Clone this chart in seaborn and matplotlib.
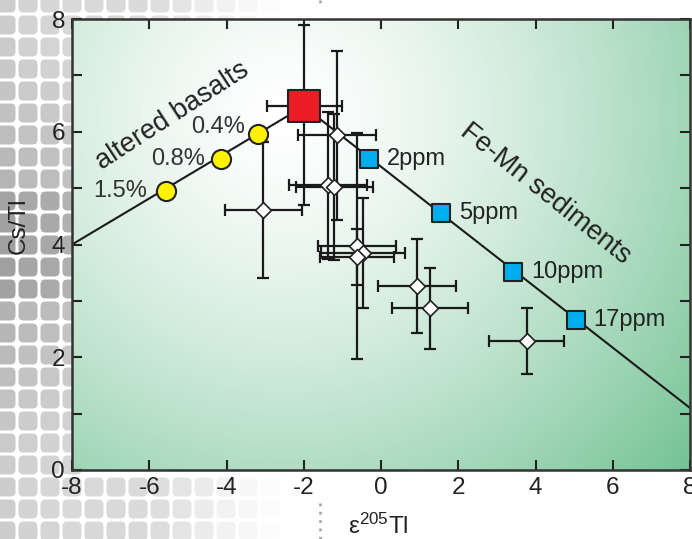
import numpy as np
import pandas as pd
import matplotlib
matplotlib.use("Agg")
import matplotlib.pyplot as plt
import seaborn as sns
from matplotlib.patches import FancyBboxPatch

# ---------------- data ----------------
basalt_x = [-5.56, -4.13, -3.18]
basalt_y = [4.95, 5.51, 5.96]
basalt_labels = ["1.5%", "0.8%", "0.4%"]

sed_x = [-0.31, 1.55, 3.41, 5.04]
sed_y = [5.51, 4.56, 3.51, 2.66]
sed_labels = ["2ppm", "5ppm", "10ppm", "17ppm"]

mix_basalt_x = [-8.0, -2.0]
mix_basalt_y = [4.0, 6.45]
mix_sed_x = [-2.0, 8.0]
mix_sed_y = [6.45, 1.1]

mantle_x = [-2.0]
mantle_y = [6.45]
mantle_xerr_lo = [0.95]
mantle_xerr_hi = [1.0]
mantle_yerr_lo = [1.75]
mantle_yerr_hi = [1.45]

sample_x = [-3.05, -1.14, -1.37, -1.21, -0.62, -0.47, -0.62, 0.93, 1.27, 3.77]
sample_y = [4.61, 5.94, 5.05, 5.02, 3.97, 3.85, 3.78, 3.26, 2.87, 2.29]
sample_xerr = [1.0, 1.0, 1.0, 1.0, 1.0, 1.08, 0.95, 1.0, 0.98, 0.98]
sample_yerr = [1.2, 1.5, 1.3, 1.3, 2.0, 0.97, 0.5, 0.83, 0.72, 0.59]

x_ticks = [-8, -6, -4, -2, 0, 2, 4, 6, 8]
y_ticks = [0, 2, 4, 6, 8]

# ---------------- style ----------------
sns.set_style("ticks")
plt.rcParams["font.family"] = ["Liberation Sans", "DejaVu Sans"]
plt.rcParams["mathtext.fontset"] = "custom"
plt.rcParams["mathtext.rm"] = "Liberation Sans"
plt.rcParams["mathtext.it"] = "Liberation Sans"

W, H = 692, 539
fig = plt.figure(figsize=(W / 100, H / 100), dpi=100)
fig.patch.set_facecolor("white")

# background decorative pattern (grey rounded tiles fading to the right)
bg = fig.add_axes([0, 0, 1, 1], zorder=-10)
bg.set_xlim(0, W)
bg.set_ylim(H, 0)
bg.axis("off")
step = 22.0
for i in range(0, 32):
    for j in range(0, 26):
        cx = 6 + i * step
        cy = 3 + j * step
        fade = np.clip(1.0 - (cx - 50) / 240.0, 0, 1)
        if cx > 80 and 25 < cy < 468:
            continue
        if fade <= 0.02:
            continue
        g = 0.74 + 0.06 * np.cos(cy / 80.0) + 0.04 * np.sin(cx / 35.0)
        if 195 < cy < 290:
            g -= 0.06
        g = g + (1 - g) * (1 - fade)
        bg.add_patch(FancyBboxPatch((cx - 9.5, cy - 9.5), 19, 19,
                                    boxstyle="round,pad=0,rounding_size=5",
                                    fc=(g, g, g), ec="none"))
# faint dotted guide
bg.plot([320, 320], [503, 539], ls=(0, (1, 2)), color="#aaaaaa", lw=2)
bg.plot([320, 320], [0, 6], ls=(0, (1, 2)), color="#aaaaaa", lw=2)

ax = fig.add_axes([72 / W, 1 - 470 / H, (690 - 72) / W, (470 - 19) / H])

# radial gradient in plot area
nx, ny = 400, 300
gx = np.linspace(-8, 8, nx)
gy = np.linspace(8, 0, ny)
GX, GY = np.meshgrid(gx, gy)
px = 381 + 38.7 * GX
py = 470 - 56.4 * GY
r = np.sqrt((px - 285) ** 2 + (py - 115) ** 2) / 540.0
t = np.clip(r, 0, 1) ** 1.4
white = np.array([255, 255, 255]) / 255
green = np.array([115, 194, 148]) / 255
img = white[None, None, :] * (1 - t[..., None]) + green[None, None, :] * t[..., None]
ax.imshow(img, extent=[-8, 8, 0, 8], aspect="auto", zorder=0, interpolation="bilinear")

# mixing lines
sns.lineplot(x=mix_basalt_x, y=mix_basalt_y, ax=ax, color="#1a1a1a", lw=1.5, zorder=2)
sns.lineplot(x=mix_sed_x, y=mix_sed_y, ax=ax, color="#1a1a1a", lw=1.5, zorder=2)

# sample error bars
ax.errorbar(sample_x, sample_y, xerr=sample_xerr, yerr=sample_yerr, fmt="none",
            ecolor="#1a1a1a", elinewidth=1.6, capsize=4.5, capthick=1.6, zorder=3)
ax.errorbar(mantle_x, mantle_y, xerr=[mantle_xerr_lo, mantle_xerr_hi],
            yerr=[mantle_yerr_lo, mantle_yerr_hi], fmt="none",
            ecolor="#1a1a1a", elinewidth=1.6, capsize=4.5, capthick=1.6, zorder=3)

# markers
sns.scatterplot(x=mantle_x, y=mantle_y, ax=ax, marker="s", s=560, color="#ec1c24",
                edgecolor="#222222", linewidth=1.5, zorder=4)
sns.scatterplot(x=basalt_x, y=basalt_y, ax=ax, marker="o", s=190, color="#fff200",
                edgecolor="#222222", linewidth=1.5, zorder=5)
sns.scatterplot(x=sed_x, y=sed_y, ax=ax, marker="s", s=150, color="#00aeef",
                edgecolor="#222222", linewidth=1.5, zorder=5)
sns.scatterplot(x=sample_x, y=sample_y, ax=ax, marker="D", s=65, color="white",
                edgecolor="#222222", linewidth=1.2, zorder=6)

# labels
bas_off = [(-13.5, 0), (-12, 0), (-9.5, 5)]
for x, y, lab, off in zip(basalt_x, basalt_y, basalt_labels, bas_off):
    ax.annotate(lab, (x, y), xytext=off, textcoords="offset points",
                ha="right", va="center", fontsize=17, color="#333333", zorder=7)
for x, y, lab in zip(sed_x, sed_y, sed_labels):
    ax.annotate(lab, (x, y), xytext=(13, 0), textcoords="offset points",
                ha="left", va="center", fontsize=17, color="#222222", zorder=7)

ax.text(-5.4, 6.28, "altered basalts", rotation=33, ha="center", va="center",
        fontsize=19.5, color="#222222", rotation_mode="anchor", zorder=7)
ax.text(4.25, 4.9, "Fe-Mn sediments", rotation=-38.5, ha="center", va="center",
        fontsize=19.5, color="#222222", rotation_mode="anchor", zorder=7)

# axes styling
ax.set_xlim(-8, 8)
ax.set_ylim(0, 8)
ax.set_xticks(x_ticks)
ax.set_yticks(y_ticks)
ax.set_xticklabels([str(v) for v in x_ticks])
ax.set_yticklabels([str(v) for v in y_ticks])
ax.set_yticks(np.arange(0, 9, 1), minor=True)
ax.tick_params(which="both", direction="in", length=7, width=1.5, color="#222222",
               top=True, right=True, labelsize=17.5, labelcolor="#222222", pad=5)
ax.tick_params(which="minor", length=7)
for s in ax.spines.values():
    s.set_linewidth(1.8)
    s.set_color("#333333")
    s.set_zorder(8)
ax.set_xlabel("")
ax.set_ylabel("")

fig.text(19 / W, 1 - 226 / H, "Cs/Tl", rotation=90, ha="center", va="center",
         fontsize=17.5, color="#222222")
fig.text(378 / W, 1 - 534 / H, r"ε$^{205}$Tl", ha="center", va="baseline",
         fontsize=17.5, color="#222222")

fig.savefig("out.png", dpi=100)
